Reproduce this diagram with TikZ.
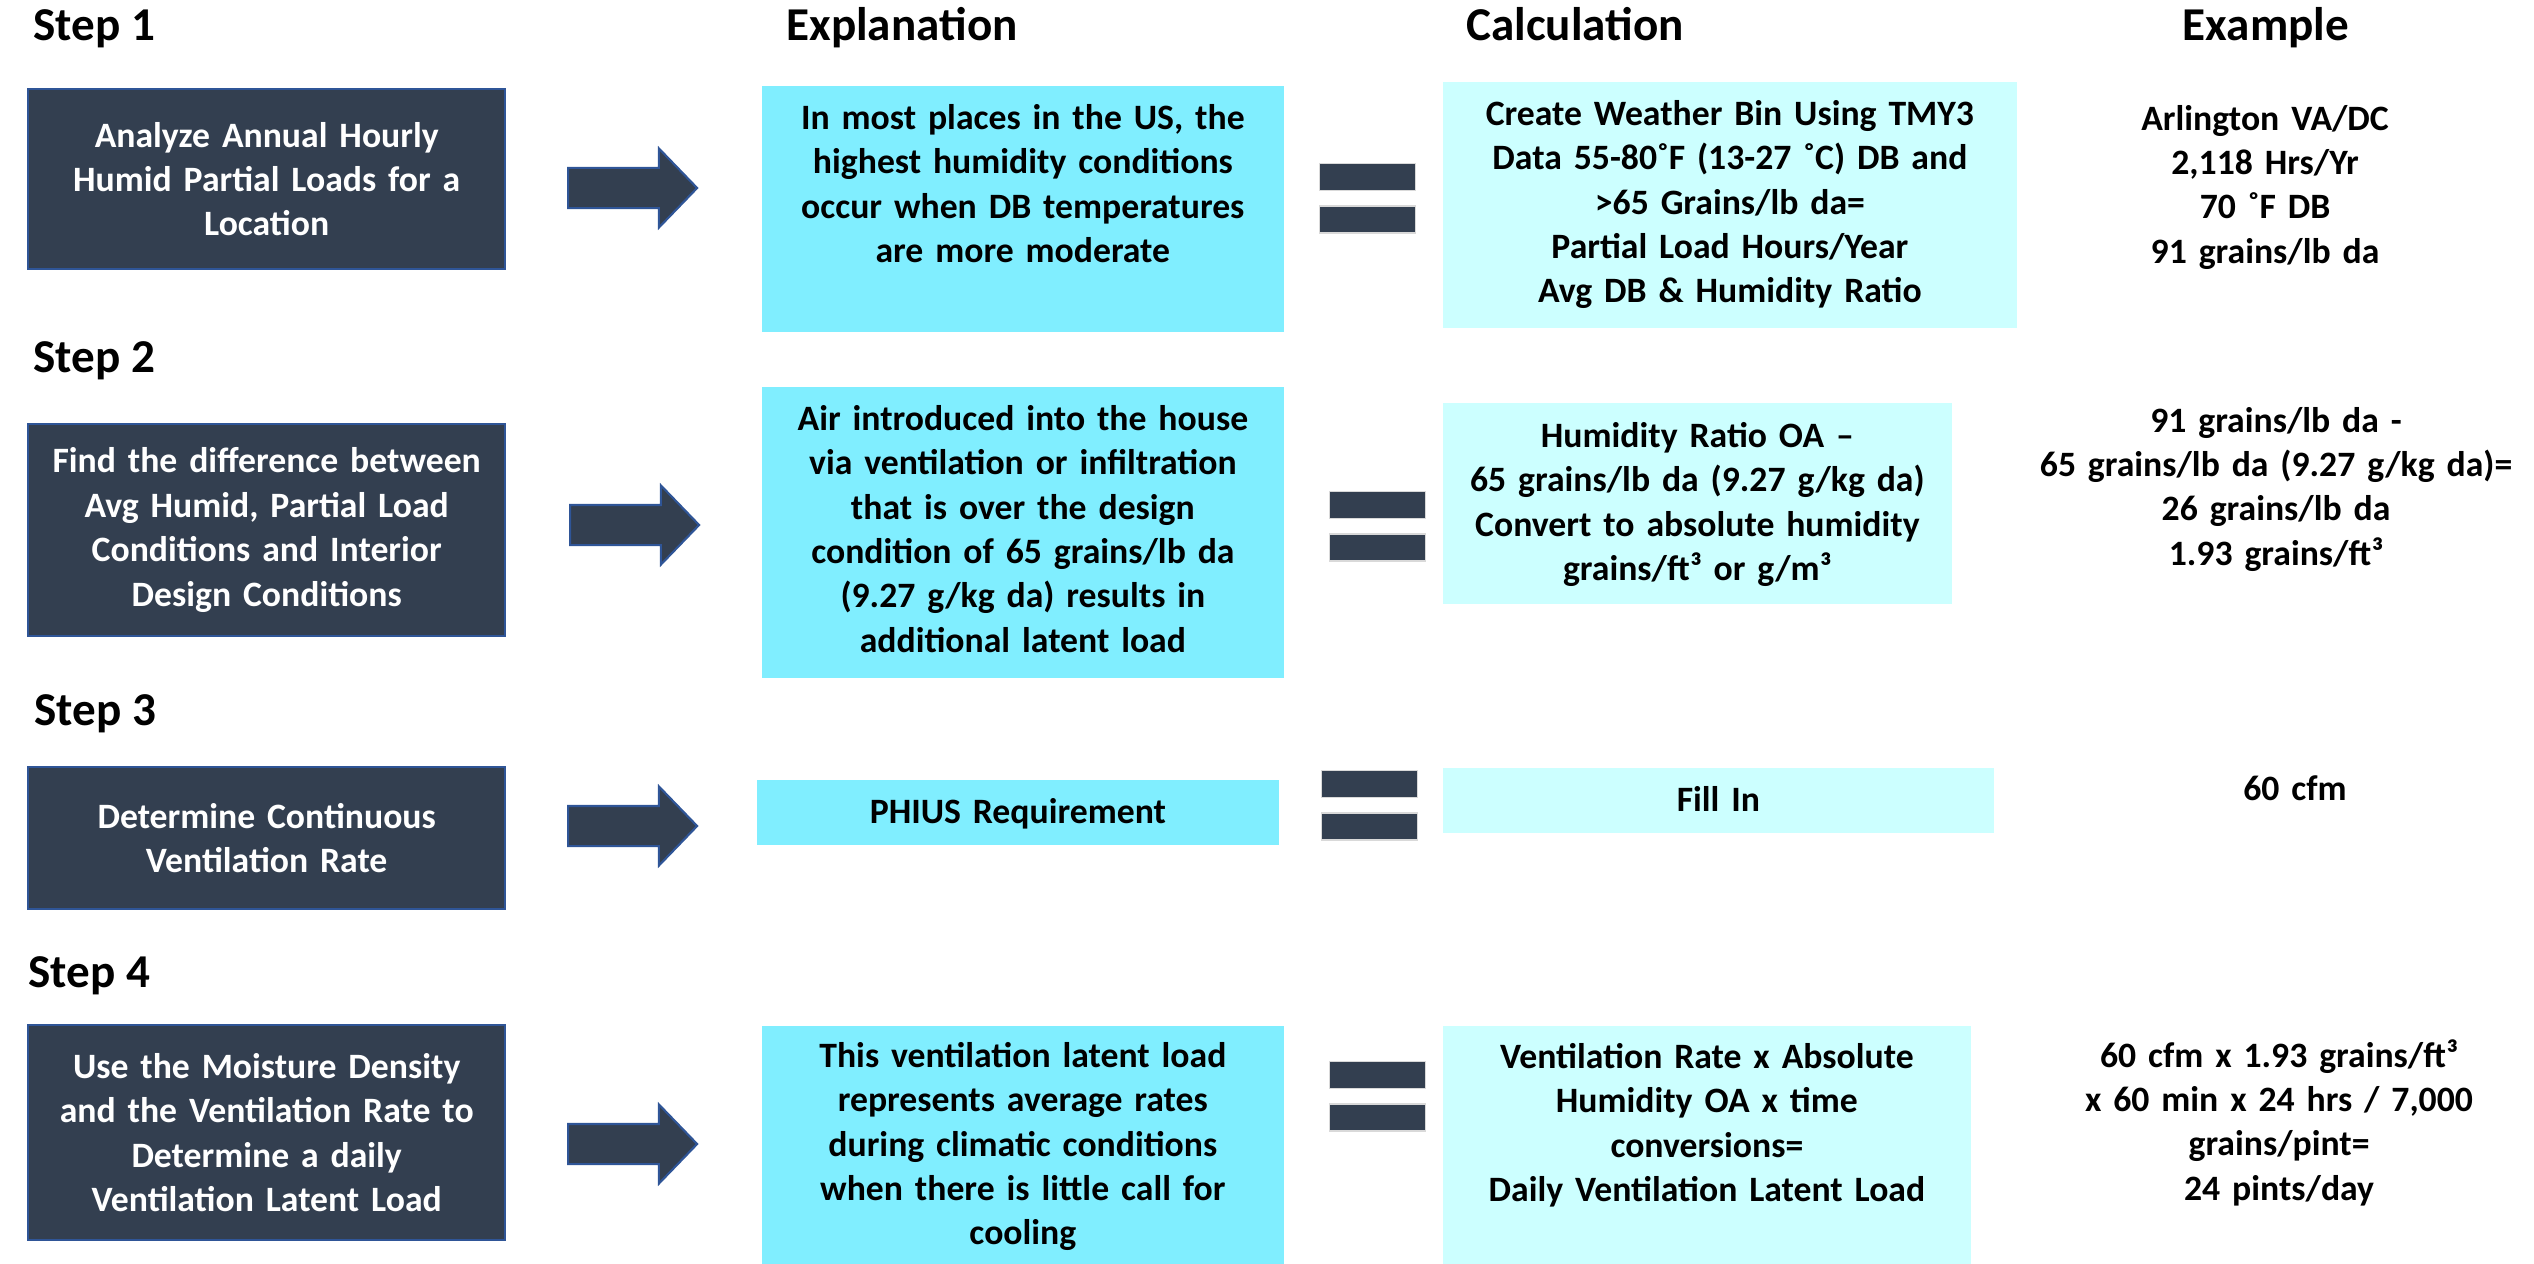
\documentclass[tikz,border=0pt]{standalone}
\usepackage{fontspec}
\setmainfont{Carlito}
\usepackage{tikz}
\usetikzlibrary{shapes.arrows,positioning}

\definecolor{slatebox}{RGB}{51,63,80}
\definecolor{edgeblue}{RGB}{47,85,151}
\definecolor{explcyan}{RGB}{128,238,255}
\definecolor{calccyan}{RGB}{204,255,255}

\newcommand\txtfont{\fontsize{10.15pt}{12.65pt}\selectfont\bfseries}
\newcommand\hdfont{\fontsize{13.4pt}{16pt}\selectfont\bfseries}

\begin{document}
\begin{tikzpicture}[
            x=0.01cm, y=-0.01cm,
            every node/.style={font=\txtfont},
            heading/.style={anchor=base west, inner sep=0pt, font=\hdfont},
            colhead/.style={anchor=base, inner sep=0pt, font=\hdfont},
            stepbox/.style={rectangle, draw=edgeblue, line width=0.6pt, fill=slatebox, text=white,
                            anchor=north west, minimum width=4.77cm, text width=4.6cm, align=center, inner sep=0pt},
            explbox/.style={rectangle, fill=explcyan, anchor=north west, minimum width=5.22cm, inner sep=0pt},
            calcbox/.style={rectangle, fill=calccyan, anchor=north west, inner sep=0pt},
            boxtext/.style={anchor=base, text width=6cm, align=center, inner sep=0pt},
            blockarrow/.style={single arrow, draw=edgeblue, line width=0.6pt, fill=slatebox, anchor=tail,
                               text height=0.38cm, text depth=0pt, text width=0pt,
                               minimum height=1.29cm, minimum width=0.77cm, single arrow head extend=0.195cm,
                               single arrow tip angle=92, inner sep=0pt},
            eqbar/.style={rectangle, fill=slatebox, draw=black!15, line width=0.4pt,
                          minimum width=0.96cm, minimum height=0.27cm, inner sep=0pt}
        ]

        \useasboundingbox (0,0) rectangle (2534,1263);

        % column and row headings
        \node[heading] (step1) at (33,40) {Step 1};
        \node[heading] (step2) at (33,372) {Step 2};
        \node[heading] (step3) at (34,725) {Step 3};
        \node[heading] (step4) at (28,987) {Step 4};
        \node[colhead] (hexpl) at (902,40) {Explanation};
        \node[colhead] (hcalc) at (1575,40) {Calculation};
        \node[colhead] (hexam) at (2266,40) {Example};

        % step boxes
        \node[stepbox, minimum height=1.80cm] (s1) at (27,88) {Analyze Annual Hourly\\Humid Partial Loads for a\\Location};
        \node[stepbox, minimum height=2.12cm] (s2) at (27,423) {Find the difference between\\Avg Humid, Partial Load\\Conditions and Interior\\Design Conditions};
        \node[stepbox, minimum height=1.42cm] (s3) at (27,766) {Determine Continuous\\Ventilation Rate};
        \node[stepbox, minimum height=2.15cm] (s4) at (27,1024) {Use the Moisture Density\\and the Ventilation Rate to\\Determine a daily\\Ventilation Latent Load};

        \node[blockarrow] (a1) at (567,188) {};
        \node[blockarrow] (a2) at (569,525) {};
        \node[blockarrow] (a3) at (567,826) {};
        \node[blockarrow] (a4) at (567,1144) {};

        % explanation boxes
        \node[explbox, minimum height=2.46cm] (e1) at (761,85) {};
        \node[explbox, minimum height=2.91cm] (e2) at (761,386) {};
        \node[explbox, minimum height=0.65cm] (e3) at (756,779) {};
        \node[explbox, minimum height=2.38cm] (e4) at (761,1025) {};

        \node[boxtext] (e1txt) at ([yshift=-0.44cm]e1.north) {In most places in the US, the\\highest humidity conditions\\occur when DB temperatures\\are more moderate};
        \node[boxtext] (e2txt) at ([yshift=-0.44cm]e2.north) {Air introduced into the house\\via ventilation or infiltration\\that is over the design\\condition of 65 grains/lb da\\(9.27 g/kg da) results in\\additional latent load};
        \node[boxtext] (e3txt) at ([yshift=-0.44cm]e3.north) {PHIUS Requirement};
        \node[boxtext] (e4txt) at ([yshift=-0.42cm]e4.north) {This ventilation latent load\\represents average rates\\during climatic conditions\\when there is little call for\\cooling};

        % equal signs
        \node[eqbar, anchor=north west] (q1a) at (1319,163) {};
        \node[eqbar, below=0.14cm of q1a] (q1b) {};
        \node[eqbar, anchor=north west] (q2a) at (1329,491) {};
        \node[eqbar, below=0.14cm of q2a] (q2b) {};
        \node[eqbar, anchor=north west] (q3a) at (1321,770) {};
        \node[eqbar, below=0.14cm of q3a] (q3b) {};
        \node[eqbar, anchor=north west] (q4a) at (1329,1061) {};
        \node[eqbar, below=0.14cm of q4a] (q4b) {};

        % calculation boxes
        \node[calcbox, minimum width=5.74cm, minimum height=2.46cm] (c1) at (1442,81) {};
        \node[calcbox, minimum width=5.09cm, minimum height=2.01cm] (c2) at (1442,402) {};
        \node[calcbox, minimum width=5.51cm, minimum height=0.65cm] (c3) at (1442,767) {};
        \node[calcbox, minimum width=5.28cm, minimum height=2.38cm] (c4) at (1442,1025) {};

        \node[boxtext] (c1txt) at ([yshift=-0.44cm]c1.north) {Create Weather Bin Using TMY3\\Data 55-80˚F (13-27 ˚C) DB and\\>65 Grains/lb da=\\Partial Load Hours/Year\\Avg DB \& Humidity Ratio};
        \node[boxtext] (c2txt) at ([yshift=-0.45cm]c2.north) {Humidity Ratio OA –\\65 grains/lb da (9.27 g/kg da)\\Convert to absolute humidity\\grains/ft³ or g/m³};
        \node[boxtext] (c3txt) at ([yshift=-0.44cm]c3.north) {Fill In};
        \node[boxtext] (c4txt) at ([yshift=-0.43cm]c4.north) {Ventilation Rate x Absolute\\Humidity OA x time\\conversions=\\Daily Ventilation Latent Load};

        % example column
        \node[boxtext] (x1) at (2265,130) {Arlington VA/DC\\2,118 Hrs/Yr\\70 ˚F DB\\91 grains/lb da};
        \node[boxtext] (x2) at (2276,432) {91 grains/lb da -\\65 grains/lb da (9.27 g/kg da)=\\26 grains/lb da\\1.93 grains/ft³};
        \node[boxtext] (x3) at (2295,800) {60 cfm};
        \node[boxtext] (x4) at (2279,1067) {60 cfm x 1.93 grains/ft³\\x 60 min x 24 hrs / 7,000\\grains/pint=\\24 pints/day};

        \end{tikzpicture}
\end{document}
